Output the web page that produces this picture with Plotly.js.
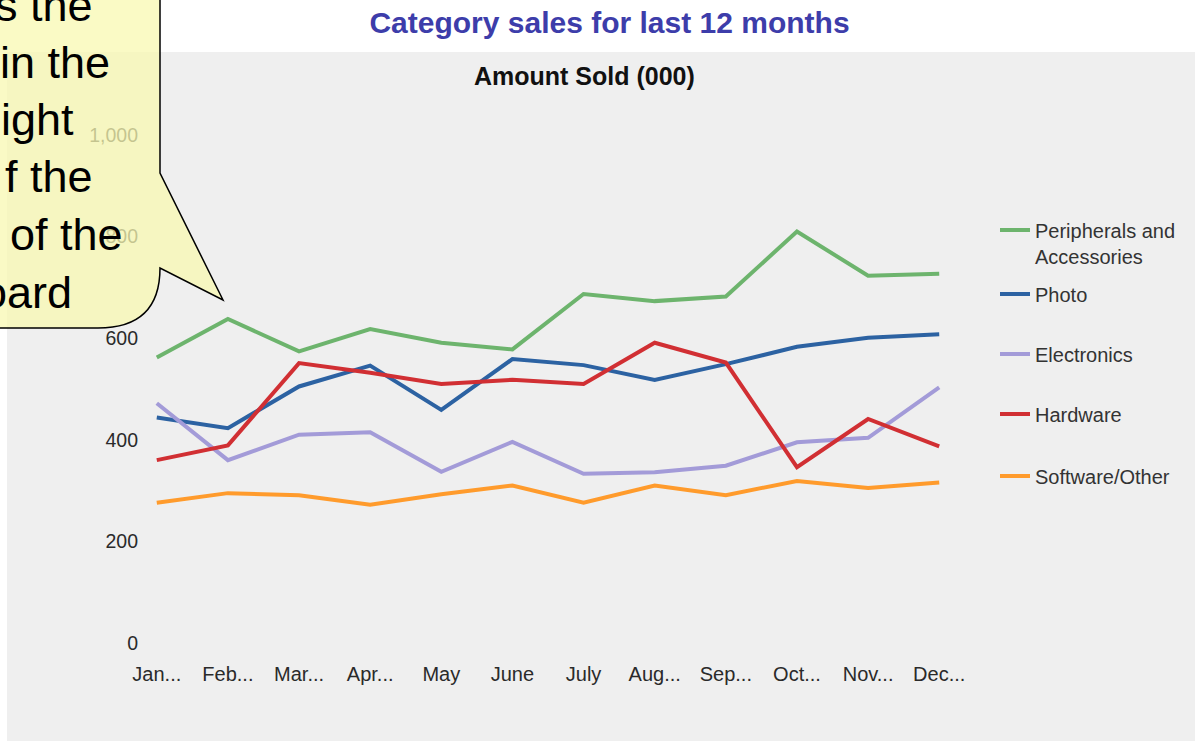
<!DOCTYPE html>
<html>
<head>
<meta charset="utf-8">
<script src="https://cdn.plot.ly/plotly-3.0.1.min.js"></script>
<style>html,body{margin:0;padding:0;background:#fff;}#chart{width:1195px;height:741px;}</style>
</head>
<body>
<div id="chart"></div>
<script>
// ---- data ----
const months = ["Jan...", "Feb...", "Mar...", "Apr...", "May", "June", "July", "Aug...", "Sep...", "Oct...", "Nov...", "Dec..."];
const peripherals = [562, 638, 574, 618, 591, 578, 687, 673, 682, 810, 723, 727];
const photo       = [444, 423, 505, 546, 459, 559, 547, 518, 549, 583, 601, 608];
const electronics = [472, 360, 410, 415, 337, 396, 333, 336, 349, 395, 404, 503];
const hardware    = [360, 389, 551, 532, 510, 518, 510, 591, 552, 346, 441, 387];
const software    = [276, 295, 291, 272, 293, 310, 276, 310, 291, 319, 305, 316];
const seriesNames = ["Peripherals and<br>Accessories", "Photo", "Electronics", "Hardware", "Software/Other"];
const yTicks = [0, 200, 400, 600, 800, 1000];

// ---- layout helpers (pixel -> paper) ----
const W = 1195, H = 741, L = 139, R = 238, T = 135, B = 98;
const PW = W - L - R, PH = H - T - B;
const px = v => (v - L) / PW;
const py = v => (H - B - v) / PH;

const FONT = "Liberation Sans, Arial, Helvetica, sans-serif";
const colors = ["#6db46d", "#2c62a2", "#a39bd8", "#d12f33", "#ff9b2c"];
const allSeries = [peripherals, photo, electronics, hardware, software];
const legendIds = ["legend", "legend2", "legend3", "legend4", "legend5"];
const legendY = [243, 294, 354, 414, 476];

const traces = allSeries.map((vals, i) => ({
  type: "scatter",
  mode: "lines",
  x: months,
  y: vals,
  name: seriesNames[i],
  legend: legendIds[i],
  showlegend: true,
  line: { color: colors[i], width: 4 },
  hoverinfo: "x+y+name"
}));

const layout = {
  width: W, height: H,
  showlegend: true,
  margin: { l: L, r: R, t: T, b: B, pad: 0 },
  paper_bgcolor: "#ffffff",
  plot_bgcolor: "rgba(0,0,0,0)",
  font: { family: FONT, color: "#333333", size: 20 },
  title: {
    text: "<b>Category sales for last 12 months</b>",
    font: { family: FONT, size: 30, color: "#3d3daa" },
    xref: "container", yref: "container",
    x: 609.5 / W, xanchor: "center",
    y: 1 - 22 / H, yanchor: "middle"
  },
  xaxis: {
    type: "category",
    range: [-0.25, 11.25],
    showgrid: false, zeroline: false, showline: false,
    ticks: "",
    tickfont: { family: FONT, size: 20, color: "#2a2a2a" },
    ticklabelstandoff: 17,
    fixedrange: true
  },
  yaxis: {
    range: [0, 1000],
    tickvals: yTicks,
    tickformat: ",",
    showgrid: false, zeroline: false, showline: false,
    ticks: "",
    tickfont: { family: FONT, size: 19.5, color: "#2a2a2a" },
    fixedrange: true
  },
  shapes: [
    {
      type: "rect", xref: "paper", yref: "paper", layer: "below",
      x0: px(7), x1: px(1200), y0: py(52), y1: py(745),
      fillcolor: "#efefef", line: { width: 0 }
    },
    {
      type: "path", xref: "paper", yref: "paper", layer: "above",
      path: (() => {
        const P = (a, b) => px(a) + "," + py(b);
        return "M" + P(-30, -60) + " L" + P(105, -60) + " Q" + P(160, -60) + " " + P(160, -5) +
               " L" + P(160, 173) + " L" + P(223, 300) + " L" + P(160, 268) +
               " Q" + P(160, 328) + " " + P(98, 328) + " L" + P(-30, 328) + " Z";
      })(),
      fillcolor: "rgba(248,248,178,0.75)",
      line: { color: "#000000", width: 1.5 }
    }
  ],
  annotations: [
    {
      text: "<b>Amount Sold (000)</b>",
      xref: "paper", yref: "paper", x: px(584), y: py(76),
      xanchor: "center", yanchor: "middle", showarrow: false,
      font: { family: FONT, size: 25, color: "#111111" }
    }
  ],
  hovermode: "closest"
};

// callout text fragments
const calloutLines = [
  { t: "s the", r: 93, b: 20 },
  { t: "in the", r: 110, b: 77 },
  { t: "ight", r: 74, b: 134 },
  { t: "f the", r: 93, b: 192 },
  { t: "of the", r: 123, b: 249 },
  { t: "oard", r: 72, b: 307 }
];
calloutLines.forEach(c => {
  layout.annotations.push({
    text: c.t, xref: "paper", yref: "paper",
    x: px(c.r + 2), y: py(c.b - 15),
    xanchor: "right", yanchor: "middle", showarrow: false,
    font: { family: FONT, size: 45, color: "#000000" }
  });
});

legendIds.forEach((id, i) => {
  layout[id] = {
    visible: true,
    x: px(995), xanchor: "left",
    y: py(legendY[i]), yanchor: "middle",
    bgcolor: "rgba(0,0,0,0)", borderwidth: 0,
    valign: "top",
    font: { family: FONT, size: 20, color: "#333333" },
    itemclick: false, itemdoubleclick: false
  };
});

Plotly.newPlot("chart", traces, layout, { displayModeBar: false });
</script>
</body>
</html>
